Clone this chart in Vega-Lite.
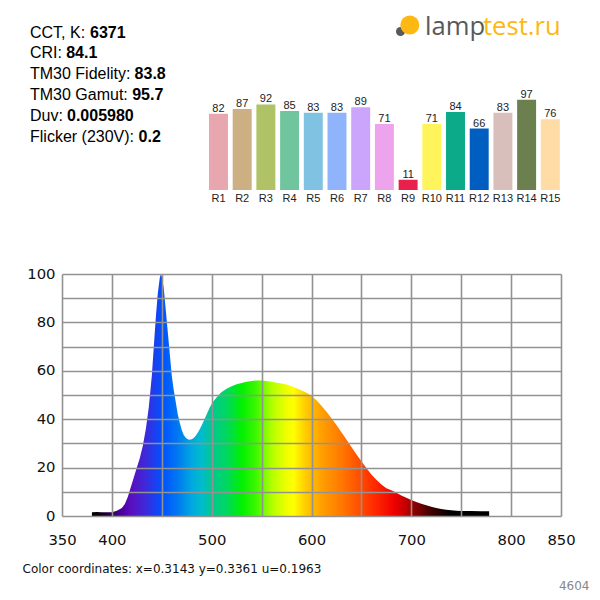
{
  "$schema": "https://vega.github.io/schema/vega-lite/v6.json",
  "width": 499,
  "height": 242,
  "autosize": "none",
  "padding": {"left": 62, "top": 274, "right": 39, "bottom": 84},
  "background": "white",
  "config": {"view": {"stroke": null}},
  "resolve": {"scale": {"x": "independent", "y": "independent", "color": "independent"}},
  "layer": [
    {
      "data": {
        "values": [
          {"nm": 380, "p": 1.6}, {"nm": 385, "p": 1.7}, {"nm": 390, "p": 1.6}, {"nm": 395, "p": 1.5},
          {"nm": 400, "p": 1.6}, {"nm": 405, "p": 2.2}, {"nm": 410, "p": 3.3}, {"nm": 413, "p": 5},
          {"nm": 416, "p": 8}, {"nm": 419, "p": 12}, {"nm": 422, "p": 16}, {"nm": 425, "p": 20},
          {"nm": 428, "p": 24}, {"nm": 431, "p": 29}, {"nm": 434, "p": 36}, {"nm": 437, "p": 45},
          {"nm": 440, "p": 58}, {"nm": 442, "p": 70}, {"nm": 444, "p": 82}, {"nm": 446, "p": 92},
          {"nm": 448, "p": 98.5}, {"nm": 449, "p": 100}, {"nm": 450, "p": 99}, {"nm": 452, "p": 94},
          {"nm": 454, "p": 85}, {"nm": 456, "p": 76}, {"nm": 458, "p": 67}, {"nm": 460, "p": 58},
          {"nm": 462, "p": 52}, {"nm": 464, "p": 47}, {"nm": 466, "p": 42}, {"nm": 468, "p": 38.5},
          {"nm": 470, "p": 35.5}, {"nm": 472, "p": 33.5}, {"nm": 474, "p": 32.3}, {"nm": 476, "p": 31.7},
          {"nm": 478, "p": 31.5}, {"nm": 480, "p": 31.7}, {"nm": 482, "p": 32.2}, {"nm": 484, "p": 33.2},
          {"nm": 486, "p": 34.4}, {"nm": 488, "p": 35.8}, {"nm": 490, "p": 37.5}, {"nm": 492, "p": 39.3},
          {"nm": 495, "p": 42}, {"nm": 498, "p": 44.8}, {"nm": 501, "p": 47}, {"nm": 504, "p": 48.6},
          {"nm": 507, "p": 50}, {"nm": 510, "p": 51.2}, {"nm": 515, "p": 52.6}, {"nm": 520, "p": 53.6},
          {"nm": 525, "p": 54.4}, {"nm": 530, "p": 55}, {"nm": 535, "p": 55.5}, {"nm": 540, "p": 55.8},
          {"nm": 545, "p": 56}, {"nm": 550, "p": 56}, {"nm": 555, "p": 55.8}, {"nm": 560, "p": 55.5},
          {"nm": 565, "p": 55.1}, {"nm": 570, "p": 54.8}, {"nm": 575, "p": 54.3}, {"nm": 580, "p": 53.6},
          {"nm": 585, "p": 52.8}, {"nm": 590, "p": 51.9}, {"nm": 595, "p": 50.9}, {"nm": 600, "p": 49.6},
          {"nm": 605, "p": 47.8}, {"nm": 610, "p": 45.6}, {"nm": 615, "p": 43.1}, {"nm": 620, "p": 40.4},
          {"nm": 625, "p": 37.6}, {"nm": 630, "p": 34.6}, {"nm": 635, "p": 31.6}, {"nm": 640, "p": 28.5},
          {"nm": 645, "p": 25.5}, {"nm": 650, "p": 22.6}, {"nm": 655, "p": 19.8}, {"nm": 660, "p": 17.2},
          {"nm": 665, "p": 15}, {"nm": 670, "p": 13}, {"nm": 675, "p": 11.5}, {"nm": 680, "p": 10.6},
          {"nm": 685, "p": 9.6}, {"nm": 690, "p": 8.5}, {"nm": 695, "p": 7.5}, {"nm": 700, "p": 6.6},
          {"nm": 705, "p": 5.8}, {"nm": 710, "p": 5.1}, {"nm": 715, "p": 4.4}, {"nm": 720, "p": 3.8},
          {"nm": 725, "p": 3.3}, {"nm": 730, "p": 2.9}, {"nm": 735, "p": 2.6}, {"nm": 740, "p": 2.4},
          {"nm": 745, "p": 2.2}, {"nm": 750, "p": 2.1}, {"nm": 760, "p": 2.1}, {"nm": 770, "p": 2},
          {"nm": 778, "p": 2}
        ]
      },
      "mark": {
        "type": "area",
        "color": {
          "gradient": "linear", "x1": 0, "y1": 0, "x2": 1, "y2": 0,
          "stops": [
            {"offset": 0, "color": "#000000"},
            {"offset": 0.025, "color": "#14001e"},
            {"offset": 0.05, "color": "#2e0058"},
            {"offset": 0.075, "color": "#5000a0"},
            {"offset": 0.1005, "color": "#5a10c0"},
            {"offset": 0.1382, "color": "#3a2cdc"},
            {"offset": 0.1759, "color": "#0050ff"},
            {"offset": 0.2136, "color": "#0076f2"},
            {"offset": 0.2513, "color": "#00a8e0"},
            {"offset": 0.2764, "color": "#00bccc"},
            {"offset": 0.3015, "color": "#00c890"},
            {"offset": 0.3392, "color": "#00d860"},
            {"offset": 0.3769, "color": "#00f000"},
            {"offset": 0.4146, "color": "#40f800"},
            {"offset": 0.4523, "color": "#b0ff00"},
            {"offset": 0.4899, "color": "#f0ff00"},
            {"offset": 0.5075, "color": "#ffff00"},
            {"offset": 0.5402, "color": "#ffc800"},
            {"offset": 0.5779, "color": "#ffa000"},
            {"offset": 0.6281, "color": "#ff7800"},
            {"offset": 0.6784, "color": "#ff4a00"},
            {"offset": 0.7136, "color": "#ff2800"},
            {"offset": 0.7613, "color": "#f00000"},
            {"offset": 0.7915, "color": "#c00000"},
            {"offset": 0.8115, "color": "#900000"},
            {"offset": 0.8467, "color": "#4a0000"},
            {"offset": 0.8819, "color": "#1a0000"},
            {"offset": 0.9045, "color": "#000000"},
            {"offset": 1, "color": "#000000"}
          ]
        }
      },
      "encoding": {
        "x": {
          "field": "nm", "type": "quantitative",
          "scale": {"domain": [350, 850], "nice": false, "zero": false},
          "axis": {
            "values": [350, 400, 450, 500, 550, 600, 650, 700, 750, 800, 850],
            "labelExpr": "(datum.value % 100 == 50 && datum.value != 350 && datum.value != 850) ? '' : datum.label",
            "grid": true, "gridColor": "#929292", "gridWidth": 1.6,
            "ticks": false, "domain": false, "zindex": 1,
            "labelFont": "DejaVu Sans", "labelFontSize": 14.8, "labelColor": "#111111",
            "labelPadding": 16, "labelFlush": false, "labelOverlap": false,
            "title": "Color coordinates: x=0.3143 y=0.3361 u=0.1963",
            "titleX": -40, "titleY": 52, "titleAlign": "left", "titleBaseline": "middle",
            "titleFont": "DejaVu Sans", "titleFontSize": 12, "titleFontWeight": "normal", "titleColor": "#111111"
          }
        },
        "y": {
          "field": "p", "type": "quantitative",
          "scale": {"domain": [0, 100], "nice": false},
          "axis": {
            "values": [0, 10, 20, 30, 40, 50, 60, 70, 80, 90, 100],
            "labelExpr": "datum.value % 20 == 0 ? datum.label : ''",
            "grid": true, "gridColor": "#929292", "gridWidth": 1.6,
            "ticks": false, "domain": false, "zindex": 1,
            "labelFont": "DejaVu Sans", "labelFontSize": 14.8, "labelColor": "#111111",
            "labelPadding": 7, "labelFlush": false, "labelOverlap": false,
            "title": "4604",
            "titleAngle": 0, "titleX": 527, "titleY": 311, "titleAlign": "right", "titleBaseline": "middle",
            "titleFont": "DejaVu Sans", "titleFontSize": 12, "titleFontWeight": "normal", "titleColor": "#888888"
          }
        }
      }
    },
    {
      "data": {
        "values": [
          {"name": "R1", "value": 82}, {"name": "R2", "value": 87}, {"name": "R3", "value": 92},
          {"name": "R4", "value": 85}, {"name": "R5", "value": 83}, {"name": "R6", "value": 83},
          {"name": "R7", "value": 89}, {"name": "R8", "value": 71}, {"name": "R9", "value": 11},
          {"name": "R10", "value": 71}, {"name": "R11", "value": 84}, {"name": "R12", "value": 66},
          {"name": "R13", "value": 83}, {"name": "R14", "value": 97}, {"name": "R15", "value": 76}
        ]
      },
      "encoding": {
        "x": {
          "field": "name", "type": "nominal", "sort": null,
          "scale": {"range": [147, 497.8], "paddingInner": 0.2, "paddingOuter": 0},
          "axis": null
        }
      },
      "layer": [
        {
          "mark": {"type": "bar"},
          "encoding": {
            "y": {"field": "value", "type": "quantitative", "scale": {"domain": [0, 100], "range": [-84, -177], "nice": false}, "axis": null},
            "color": {
              "field": "name", "type": "nominal", "sort": null, "legend": null,
              "scale": {
                "domain": ["R1", "R2", "R3", "R4", "R5", "R6", "R7", "R8", "R9", "R10", "R11", "R12", "R13", "R14", "R15"],
                "range": ["#e8a6ae", "#ccb083", "#afc266", "#70c59e", "#80c2e2", "#90b4fc", "#cba4fc", "#eea4ec", "#e8204c", "#fff45c", "#0caa88", "#005ec0", "#d8bfbb", "#6b7f4f", "#ffdba6"]
              }
            }
          }
        },
        {
          "mark": {"type": "text", "baseline": "alphabetic", "dy": -2, "font": "Liberation Sans", "fontSize": 11, "color": "#222222"},
          "encoding": {
            "y": {"field": "value", "type": "quantitative"},
            "text": {"field": "value", "type": "quantitative"}
          }
        },
        {
          "mark": {"type": "text", "baseline": "top", "dy": 2.5, "font": "Liberation Sans", "fontSize": 11, "color": "#222222"},
          "encoding": {
            "y": {"datum": 0, "type": "quantitative"},
            "text": {"field": "name", "type": "nominal"}
          }
        }
      ]
    },
    {
      "data": {
        "values": [
          {"label": "CCT, K:", "value": "6371"},
          {"label": "CRI:", "value": "84.1"},
          {"label": "TM30 Fidelity:", "value": "83.8"},
          {"label": "TM30 Gamut:", "value": "95.7"},
          {"label": "Duv:", "value": "0.005980"},
          {"label": "Flicker (230V):", "value": "0.2"}
        ]
      },
      "encoding": {
        "y": {
          "field": "label", "type": "nominal", "sort": null,
          "scale": {"type": "point", "range": [-236.3, -132.5], "padding": 0},
          "axis": null
        },
        "x": {"value": -32}
      },
      "layer": [
        {
          "mark": {"type": "text", "align": "left", "baseline": "alphabetic", "font": "Liberation Sans", "fontSize": 16, "color": "#000000"},
          "encoding": {"text": {"field": "label", "type": "nominal"}}
        },
        {
          "mark": {
            "type": "text", "align": "left", "baseline": "alphabetic", "font": "Liberation Sans", "fontSize": 16, "fontWeight": "bold", "color": "#000000",
            "dx": {"expr": "[60, 36.2, 104.6, 102.2, 37, 108.6][indexof(['CCT, K:', 'CRI:', 'TM30 Fidelity:', 'TM30 Gamut:', 'Duv:', 'Flicker (230V):'], datum.label)]"}
          },
          "encoding": {"text": {"field": "value", "type": "nominal"}}
        }
      ]
    },
    {
      "data": {"values": [{"part": "base"}]},
      "mark": {"type": "point", "shape": "circle", "filled": true, "opacity": 1, "size": 81, "color": "#58595b"},
      "encoding": {"x": {"value": 338.5}, "y": {"value": -242.5}}
    },
    {
      "data": {"values": [{"part": "bulb"}]},
      "mark": {"type": "point", "shape": "circle", "filled": true, "opacity": 1, "size": 361, "color": "#fdb813"},
      "encoding": {"x": {"value": 347.8}, "y": {"value": -249}}
    },
    {
      "data": {"values": [{"part": "lamp"}, {"part": "test.ru"}]},
      "mark": {"type": "text", "align": "left", "baseline": "alphabetic", "font": "Open Sans", "fontSize": 25.6},
      "encoding": {
        "x": {"field": "part", "type": "nominal", "sort": null, "scale": {"type": "point", "range": [363, 421], "padding": 0}, "axis": null},
        "y": {"value": -239.3},
        "text": {"field": "part", "type": "nominal"},
        "color": {"field": "part", "type": "nominal", "sort": null, "legend": null, "scale": {"domain": ["lamp", "test.ru"], "range": ["#58595b", "#fdb813"]}}
      }
    }
  ]
}
